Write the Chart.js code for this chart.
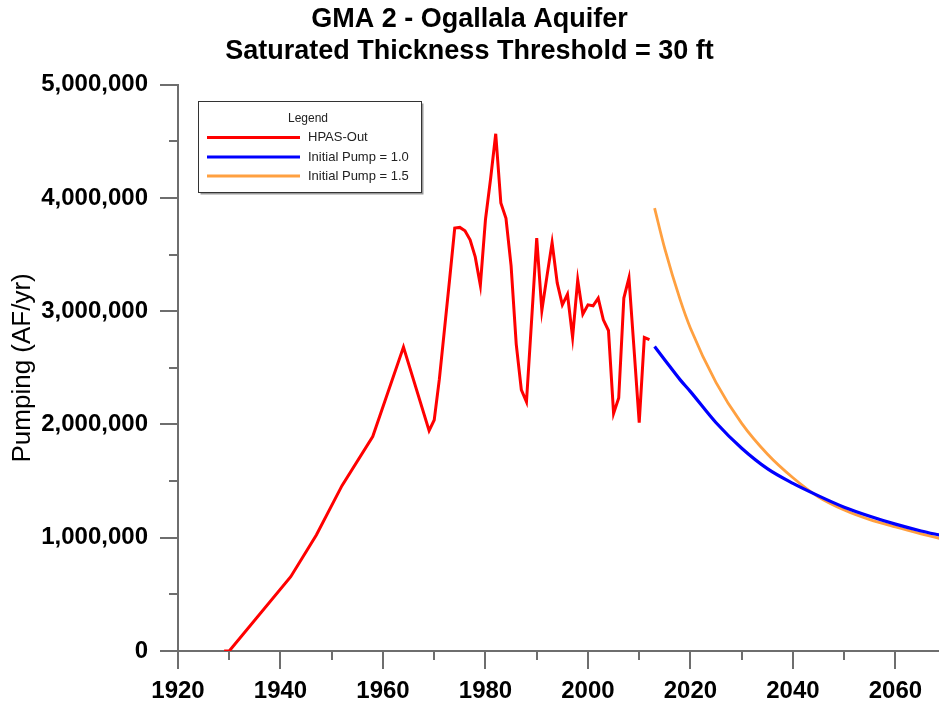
<!DOCTYPE html>
<html>
<head>
<meta charset="utf-8">
<script src="https://cdn.jsdelivr.net/npm/chart.js@4.4.1/dist/chart.umd.min.js"></script>
<style>
html,body{margin:0;padding:0;background:#ffffff;}
#wrap{width:939px;height:706px;}
</style>
</head>
<body>
<div id="wrap"><canvas id="c" width="939" height="706"></canvas></div>
<script>
// ---------- text ----------
const titleLines = ['GMA 2 - Ogallala Aquifer', 'Saturated Thickness Threshold = 30 ft'];
const yAxisTitle = 'Pumping (AF/yr)';
const legendTitle = 'Legend';
const seriesNames = ['HPAS-Out', 'Initial Pump = 1.0', 'Initial Pump = 1.5'];

// ---------- ticks ----------
const xTickLabels = [1920, 1940, 1960, 1980, 2000, 2020, 2040, 2060];
const yTickLabels = [0, 1000000, 2000000, 3000000, 4000000, 5000000];

// ---------- data ----------
const hpasYears = [1929, 1930, 1942, 1947, 1952, 1958, 1964, 1969, 1970, 1971, 1972, 1973, 1974, 1975, 1976, 1977, 1978, 1979,
  1980, 1981, 1982, 1983, 1984, 1985, 1986, 1987, 1988, 1989, 1990, 1991, 1992, 1993, 1994, 1995, 1996, 1997, 1998, 1999,
  2000, 2001, 2002, 2003, 2004, 2005, 2006, 2007, 2008, 2009, 2010, 2011, 2012];
const hpasValues = [0, 0, 656000, 1025000, 1460000, 1893000, 2683000, 1946000, 2040000, 2400000, 2840000, 3280000, 3734000, 3740000, 3710000, 3630000, 3480000, 3230000,
  3810000, 4170000, 4567000, 3955000, 3820000, 3400000, 2710000, 2306000, 2200000, 2920000, 3646000, 3006000, 3310000, 3607000, 3250000, 3056000, 3150000, 2770000, 3277000, 2974000,
  3056000, 3048000, 3116000, 2924000, 2830000, 2098000, 2234000, 3116000, 3294000, 2660000, 2017000, 2768000, 2750000];

const pump10Years = [2013, 2015, 2018, 2020, 2025, 2030, 2035, 2040, 2045, 2050, 2055, 2060, 2065, 2069];
const pump10Values = [2688000, 2570000, 2394000, 2290000, 2015000, 1790000, 1610000, 1480000, 1370000, 1270000, 1190000, 1120000, 1060000, 1020000];

const pump15Years = [2013, 2015, 2018, 2020, 2025, 2030, 2035, 2040, 2045, 2050, 2055, 2060, 2065, 2069];
const pump15Values = [3910000, 3550000, 3100000, 2850000, 2370000, 2010000, 1740000, 1530000, 1360000, 1245000, 1160000, 1095000, 1035000, 990000];

// ---------- styles ----------
const FONT = "'Liberation Sans', Arial, Helvetica, sans-serif";
const AXIS_COLOR = '#6e6e6e';
const colors = ['#ff0000', '#0000ff', '#ffa040'];

Chart.defaults.font.family = FONT;

function pts(xs, ys) { return xs.map((x, i) => ({ x: x, y: ys[i] })); }

const tickPlugin = {
  id: 'customTicks',
  afterDraw(chart) {
    const ctx = chart.ctx, xs = chart.scales.x, ys = chart.scales.y, ca = chart.chartArea;
    ctx.save();
    ctx.strokeStyle = AXIS_COLOR;
    ctx.lineWidth = 2;
    ctx.beginPath();
    for (let v = xs.min; v <= xs.max + 1e-9; v += 10) {
      const px = Math.round(xs.getPixelForValue(v));
      const len = (v % 20 === 0) ? 18 : 9;
      ctx.moveTo(px, ca.bottom);
      ctx.lineTo(px, ca.bottom + len);
    }
    for (let v = ys.min; v <= ys.max + 1; v += 500000) {
      const py = Math.round(ys.getPixelForValue(v));
      const len = (v % 1000000 === 0) ? 18 : 9;
      ctx.moveTo(ca.left, py);
      ctx.lineTo(ca.left - len, py);
    }
    ctx.stroke();
    ctx.restore();
  }
};

const legendPlugin = {
  id: 'boxLegend',
  afterDraw(chart) {
    const ctx = chart.ctx;
    const bx = 198.5, by = 101.5, bw = 223, bh = 91;
    ctx.save();
    ctx.fillStyle = '#9a9a9a';
    ctx.fillRect(bx + 2, by + 2, bw, bh);
    ctx.fillStyle = '#ffffff';
    ctx.fillRect(bx, by, bw, bh);
    ctx.strokeStyle = '#333333';
    ctx.lineWidth = 1;
    ctx.strokeRect(bx, by, bw, bh);
    ctx.fillStyle = '#222222';
    ctx.font = '12px ' + FONT;
    ctx.textAlign = 'center';
    ctx.textBaseline = 'middle';
    ctx.fillText(legendTitle, bx + bw / 2 - 2, by + 17);
    ctx.textAlign = 'left';
    ctx.font = '13px ' + FONT;
    const rows = [137.5, 157, 176];
    chart.data.datasets.forEach((ds, i) => {
      ctx.strokeStyle = ds.borderColor;
      ctx.lineWidth = 3;
      ctx.beginPath();
      ctx.moveTo(207, rows[i]);
      ctx.lineTo(300, rows[i]);
      ctx.stroke();
      ctx.fillStyle = '#222222';
      ctx.fillText(ds.label, 308, rows[i]);
    });
    ctx.restore();
  }
};

new Chart(document.getElementById('c'), {
  type: 'line',
  data: {
    datasets: [
      { label: seriesNames[0], data: pts(hpasYears, hpasValues), borderColor: colors[0], borderWidth: 3, tension: 0, pointRadius: 0 },
      { label: seriesNames[1], data: pts(pump10Years, pump10Values), borderColor: colors[1], borderWidth: 3.2, cubicInterpolationMode: 'monotone', pointRadius: 0 },
      { label: seriesNames[2], data: pts(pump15Years, pump15Values), borderColor: colors[2], borderWidth: 2.8, cubicInterpolationMode: 'monotone', pointRadius: 0 }
    ]
  },
  options: {
    responsive: false,
    animation: false,
    devicePixelRatio: 1,
    layout: { padding: { left: 0, right: 0, top: 0, bottom: 0 } },
    plugins: {
      legend: { display: false },
      tooltip: { enabled: false },
      title: {
        display: true,
        text: titleLines,
        color: '#000000',
        font: { family: FONT, size: 27, weight: 'bold', lineHeight: 1.18 },
        padding: { top: 4, bottom: 17 }
      }
    },
    scales: {
      x: {
        type: 'linear',
        min: 1920,
        max: 2068.5,
        afterFit: (s) => { s.height = 55; s.paddingLeft = 0; s.paddingRight = 0; },
        border: { display: true, color: AXIS_COLOR, width: 2 },
        grid: { display: true, drawOnChartArea: false, drawTicks: false },
        ticks: {
          stepSize: 20,
          includeBounds: false,
          autoSkip: false,
          maxRotation: 0,
          padding: 26,
          color: '#000000',
          font: { family: FONT, size: 24, weight: 'bold' },
          callback: (v) => (xTickLabels.indexOf(v) >= 0 ? String(v) : '')
        }
      },
      y: {
        type: 'linear',
        min: 0,
        max: 5000000,
        afterFit: (s) => { s.width = 178; s.paddingTop = 0; s.paddingBottom = 0; },
        border: { display: true, color: AXIS_COLOR, width: 2 },
        grid: { display: true, drawOnChartArea: false, drawTicks: false },
        ticks: {
          stepSize: 1000000,
          autoSkip: false,
          padding: 30,
          color: '#000000',
          font: { family: FONT, size: 24, weight: 'bold' },
          callback: (v) => (yTickLabels.indexOf(v) >= 0 ? v.toLocaleString('en-US') : '')
        },
        title: {
          display: true,
          text: yAxisTitle,
          color: '#000000',
          font: { family: FONT, size: 26, weight: 'normal', lineHeight: 1.2 },
          padding: { top: 7, bottom: 0 }
        }
      }
    }
  },
  plugins: [tickPlugin, legendPlugin]
});
</script>
</body>
</html>
